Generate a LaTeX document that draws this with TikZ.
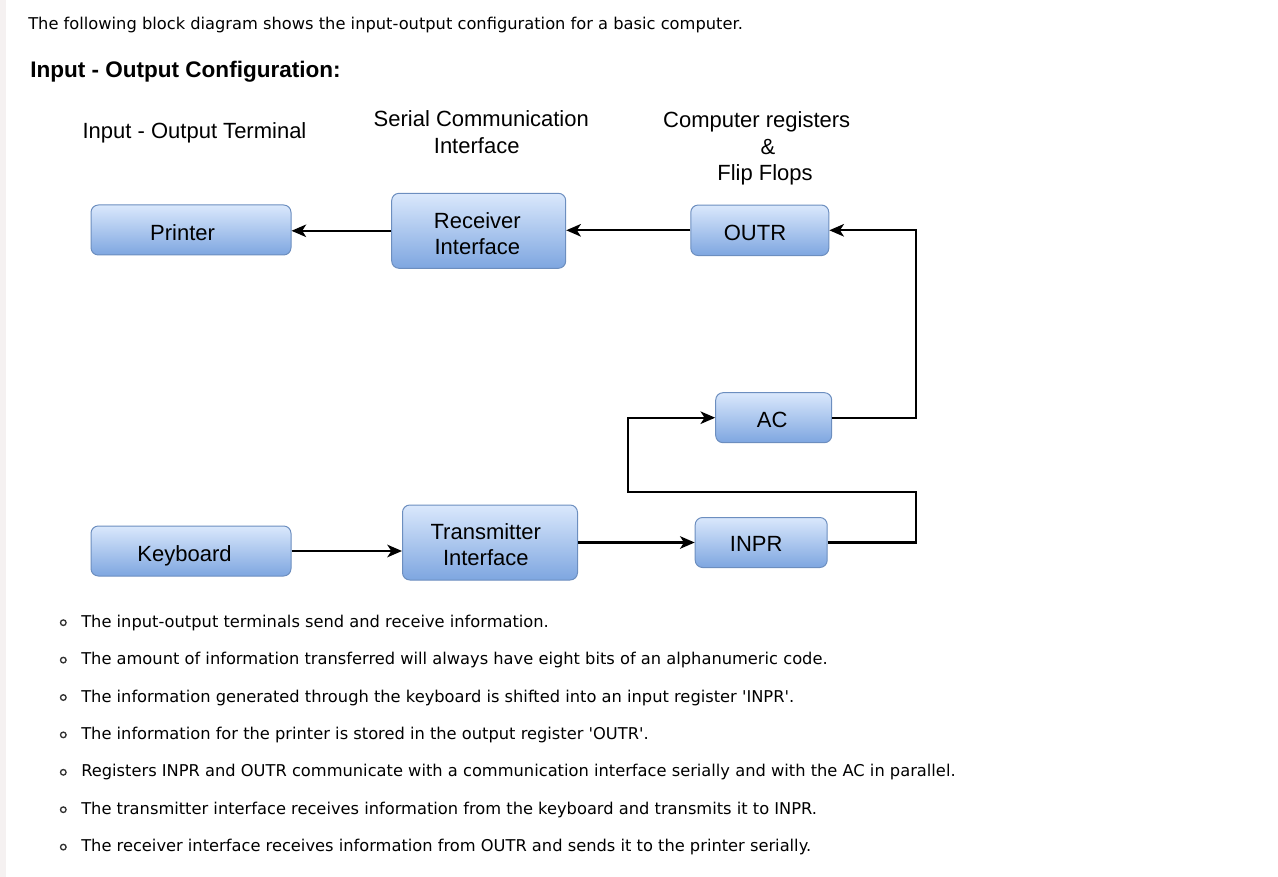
\documentclass[tikz,border=0pt]{standalone}
\usepackage{fontspec}
\setmainfont{DejaVu Sans}
\newfontfamily\arialf{Liberation Sans}
\usetikzlibrary{arrows.meta}
\definecolor{boxtop}{HTML}{DAE8FC}
\definecolor{boxbot}{HTML}{7EA6E0}
\definecolor{boxline}{HTML}{6C8EBF}
\definecolor{stripc}{HTML}{F5F1F1}
\definecolor{bulletc}{HTML}{333333}
\newcommand\mlines[1]{\vbox{\halign{\hfil##\hfil\cr#1\crcr}}}
\newcommand\boxtext[3]{\raisebox{0pt}[#1][0pt]{\mlines{#2}}\hspace*{#3}}
\begin{document}
\begin{tikzpicture}[x=0.75pt,y=-0.75pt,
  box/.style={draw=boxline, line width=0.75pt, rounded corners=5.5pt,
    top color=boxtop, bottom color=boxbot, inner sep=0pt,
    font=\arialf\fontsize{16.5pt}{19.8pt}\selectfont},
  hdr/.style={inner sep=0pt, anchor=base, font=\arialf\fontsize{16.5pt}{19.8pt}\selectfont},
  body/.style={inner sep=0pt, anchor=base west, font=\fontsize{12.2pt}{14.6pt}\selectfont},
  arr/.style={line width=1.65pt, -{Stealth[length=11pt,width=9.4pt,inset=3pt]}},
  bul/.style={draw=bulletc, line width=1pt}
]
\useasboundingbox (0,0) rectangle (1278,877);
\fill[stripc] (0,0) rectangle (6,877);

% text above
\node[body] (intro) at (28,29.3) {The following block diagram shows the input-output configuration for a basic computer.};
\node[inner sep=0pt, anchor=base west, font=\arialf\bfseries\fontsize{16.9pt}{20pt}\selectfont] (title) at (30,77.5) {Input - Output Configuration:};

% column headers
\node[hdr] (h1) at (194.5,139) {Input - Output Terminal};
\node[hdr] (h2) at (481.3,153.3) {\mlines{Serial Communication\cr Interface\hspace*{6.9pt}}};
\node[hdr] (h3) at (756.7,180.7) {\mlines{Computer registers\cr \hspace*{17pt}\&\cr \hspace*{12.5pt}Flip Flops}};

% boxes
\node[box, minimum width=200*0.75pt, minimum height=50*0.75pt] (printer) at (191,230) {\boxtext{15.5pt}{Printer}{12.7pt}};
\node[box, minimum width=174*0.75pt, minimum height=75*0.75pt] (recv) at (478.7,230.8) {\boxtext{36.3pt}{Receiver\cr Interface}{2pt}};
\node[box, minimum width=138*0.75pt, minimum height=50.5*0.75pt] (outr) at (759.8,230.3) {\boxtext{15pt}{OUTR}{7.2pt}};
\node[box, minimum width=116*0.75pt, minimum height=50*0.75pt] (ac) at (773.7,417.7) {\boxtext{14pt}{AC}{2.2pt}};
\node[box, minimum width=200*0.75pt, minimum height=50*0.75pt] (keyb) at (191,551) {\boxtext{15pt}{Keyboard}{9.7pt}};
\node[box, minimum width=175*0.75pt, minimum height=75*0.75pt] (trans) at (490,542.5) {\boxtext{34.8pt}{Transmitter\cr Interface}{6.3pt}};
\node[box, minimum width=132*0.75pt, minimum height=50*0.75pt] (inpr) at (761.2,542.5) {\boxtext{14pt}{INPR}{7.5pt}};

\coordinate (rbus) at (916,0);
\coordinate (lbus) at (628.3,492.3);

% connectors
\draw[arr] (recv.west) -- (recv.west -| printer.east);
\draw[arr] (outr.west) -- (outr.west -| recv.east);
\draw[arr] (ac.east) -- (ac.east -| rbus) |- (outr.east);
\draw[arr] (inpr.east) -- (inpr.east -| rbus) |- (lbus) |- (ac.west);
\draw[arr] (keyb.east) -- (keyb.east -| trans.west);
\draw[arr] (trans.east) -- (trans.east -| inpr.west);

% bullet list
\foreach \i/\t in {0/{The input-output terminals send and receive information.},
  1/{The amount of information transferred will always have eight bits of an alphanumeric code.},
  2/{The information generated through the keyboard is shifted into an input register \textquotesingle INPR\textquotesingle.},
  3/{The information for the printer is stored in the output register \textquotesingle OUTR\textquotesingle.},
  4/{Registers INPR and OUTR communicate with a communication interface serially and with the AC in parallel.},
  5/{The transmitter interface receives information from the keyboard and transmits it to INPR.},
  6/{The receiver interface receives information from OUTR and sends it to the printer serially.}}{
  \pgfmathsetmacro\yb{627.3+37.4*\i}
  \draw[bul] (63.3,\yb-4.6) circle[radius=2.1pt];
  \node[body] (item\i) at (81,\yb) {\t};
}
\end{tikzpicture}
\end{document}
